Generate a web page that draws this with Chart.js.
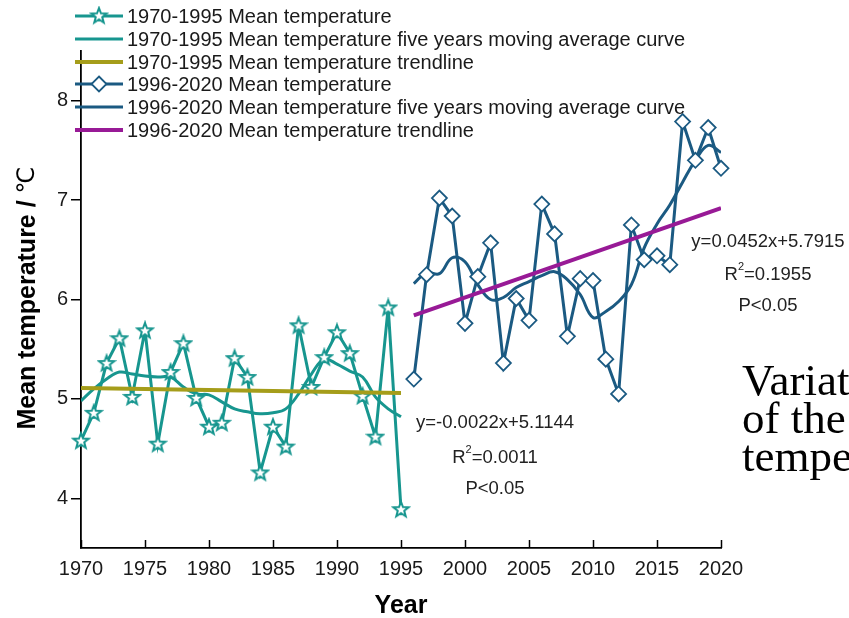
<!DOCTYPE html>
<html>
<head>
<meta charset="utf-8">
<script src="https://cdn.jsdelivr.net/npm/chart.js@4.4.0/dist/chart.umd.min.js"></script>
<style>
  html, body { margin: 0; padding: 0; background: #fff; }
</style>
</head>
<body>
<canvas id="myChart" width="849" height="618"></canvas>
<script>
// Mean temperature chart, two periods with moving average and trendlines

// 1970-1995 period
const years1 = [1970,1971,1972,1973,1974,1975,1976,1977,1978,1979,1980,1981,1982,
                1983,1984,1985,1986,1987,1988,1989,1990,1991,1992,1993,1994,1995];
const temp1 = [4.58,4.86,5.36,5.61,5.02,5.69,4.55,5.27,5.56,5.01,4.72,4.76,5.41,
               5.22,4.26,4.72,4.52,5.74,5.12,5.42,5.67,5.46,5.03,4.62,5.92,3.89];
const ma1 = [4.98,5.10,5.20,5.27,5.25,5.23,5.22,5.22,5.12,5.05,5.04,4.97,4.90,
             4.87,4.85,4.86,4.90,5.05,5.25,5.40,5.35,5.28,5.22,5.02,4.90,4.82];
const trendYears1 = [1970, 1995];
const trend1 = [5.11, 5.06];

// 1996-2020 period
const years2 = [1996,1997,1998,1999,2000,2001,2002,2003,2004,2005,2006,2007,2008,
                2009,2010,2011,2012,2013,2014,2015,2016,2017,2018,2019,2020];
const temp2 = [5.20,6.25,7.02,6.84,5.76,6.23,6.57,5.36,6.01,5.79,6.96,6.66,5.63,
               6.21,6.19,5.40,5.05,6.75,6.40,6.44,6.35,7.79,7.40,7.73,7.32];
const ma2 = [6.16,6.27,6.26,6.42,6.38,6.15,6.00,6.02,6.12,6.18,6.24,6.28,6.20,
             6.05,5.82,5.88,5.98,6.15,6.52,6.76,6.95,7.18,7.40,7.55,7.48];
const trendYears2 = [1996, 2020];
const trend2 = [5.84, 6.92];

// axes
const xTicks = [1970,1975,1980,1985,1990,1995,2000,2005,2010,2015,2020];
const yTicks = [4,5,6,7,8];

const legendLabels = [
  '1970-1995 Mean temperature',
  '1970-1995 Mean temperature five years moving average curve',
  '1970-1995 Mean temperature trendline',
  '1996-2020 Mean temperature',
  '1996-2020 Mean temperature five years moving average curve',
  '1996-2020 Mean temperature trendline'
];
const fit1 = ['y=-0.0022x+5.1144', '0.0011', 'P<0.05'];
const fit2 = ['y=0.0452x+5.7915', '0.1955', 'P<0.05'];
const sideText = ['Variat', 'of the', 'tempe'];

const teal = '#17968f';
const olive = '#a59d1a';
const navy = '#1b5a82';
const purple = '#981a96';

const pts = (xs, ys) => xs.map((x, i) => ({x: x, y: ys[i]}));

//star marker drawn once on a small canvas
function starPath(g, cx, cy, ro, ri) {
  g.beginPath();
  for (let i = 0; i < 10; i++) {
    const r = i % 2 ? ri : ro;
    const a = -Math.PI / 2 + i * Math.PI / 5;
    g.lineTo(cx + r * Math.cos(a), cy + r * Math.sin(a));
  }
  g.closePath();
}
const starImg = document.createElement('canvas');
starImg.width = 20; starImg.height = 20;
(function () {
  const g = starImg.getContext('2d');
  starPath(g, 10, 10.5, 8, 3.4);
  g.fillStyle = '#fff'; g.fill();
  g.lineWidth = 2; g.strokeStyle = teal; g.stroke();
})();

// extra drawing: inward x ticks, titles, legend, fit texts
const decor = {
  id: 'decor',
  afterDraw(chart) {
    const ctx = chart.ctx;
    const area = chart.chartArea;
    const xs = chart.scales.x;
    ctx.save();

    ctx.strokeStyle = '#000';
    ctx.lineWidth = 1.5;
    xTicks.forEach(v => {
      const px = Math.round(xs.getPixelForValue(v)) + 0.5;
      ctx.beginPath();
      ctx.moveTo(px, area.bottom);
      ctx.lineTo(px, area.bottom - 8);
      ctx.stroke();
    });

    // axis titles
    ctx.fillStyle = '#000';
    ctx.textAlign = 'center';
    ctx.textBaseline = 'middle';
    ctx.font = 'bold 25px "Liberation Sans", Arial, sans-serif';
    ctx.fillText('Year', (area.left + area.right) / 2, 606);
    ctx.save();
    ctx.translate(28, 298);
    ctx.rotate(-Math.PI / 2);
    const yTitle = 'Mean temperature / ';
    const wTitle = ctx.measureText(yTitle).width;
    ctx.font = '24px "DejaVu Sans", sans-serif';
    const wUnit = ctx.measureText('\u2103').width;
    ctx.textAlign = 'left';
    const tx = -(wTitle + wUnit) / 2;
    ctx.fillText('\u2103', tx + wTitle, 0);
    ctx.font = 'bold 25px "Liberation Sans", Arial, sans-serif';
    ctx.fillText(yTitle, tx, 0);
    ctx.restore();

    // legend
    const rowY = [16, 39, 62, 84, 107, 130];
    const rowColor = [teal, teal, olive, navy, navy, purple];
    ctx.font = '20px "Liberation Sans", Arial, sans-serif';
    ctx.textAlign = 'left';
    legendLabels.forEach((t, i) => {
      const y = rowY[i];
      ctx.strokeStyle = rowColor[i];
      ctx.lineWidth = (i === 2 || i === 5) ? 4 : 3;
      ctx.beginPath();
      ctx.moveTo(75, y);
      ctx.lineTo(123, y);
      ctx.stroke();
      if (i === 0) ctx.drawImage(starImg, 89, 5.5);
      if (i === 3) {
        ctx.beginPath();
        ctx.moveTo(99, y - 7.5); ctx.lineTo(106.5, y); ctx.lineTo(99, y + 7.5); ctx.lineTo(91.5, y);
        ctx.closePath();
        ctx.fillStyle = '#fff'; ctx.fill();
        ctx.lineWidth = 1.8; ctx.strokeStyle = navy; ctx.stroke();
      }
      ctx.fillStyle = '#1a1a1a';
      ctx.fillText(t, 127, y + 1);
    });

    // regression texts
    function fitBlock(lines, cx, ys) {
      ctx.fillStyle = '#222';
      ctx.textBaseline = 'middle';
      ctx.textAlign = 'center';
      ctx.font = '18.5px "Liberation Sans", Arial, sans-serif';
      ctx.fillText(lines[0], cx, ys[0]);
      ctx.fillText(lines[2], cx, ys[2]);
      // R squared with superscript
      const rest = '=' + lines[1];
      const wR = ctx.measureText('R').width;
      const wRest = ctx.measureText(rest).width;
      ctx.font = '11px "Liberation Sans", Arial, sans-serif';
      const wSup = ctx.measureText('2').width;
      let x0 = cx - (wR + wSup + wRest) / 2;
      ctx.textAlign = 'left';
      ctx.fillText('2', x0 + wR, ys[1] - 8);
      ctx.font = '18.5px "Liberation Sans", Arial, sans-serif';
      ctx.fillText('R', x0, ys[1]);
      ctx.fillText(rest, x0 + wR + wSup, ys[1]);
    }
    fitBlock(fit1, 495, [423, 458, 489]);
    fitBlock(fit2, 768, [242, 275, 306]);

    // serif caption cut at the right edge
    ctx.fillStyle = '#000';
    ctx.textAlign = 'left';
    ctx.textBaseline = 'alphabetic';
    ctx.font = '45px "Liberation Serif", "Times New Roman", serif';
    sideText.forEach((t, i) => ctx.fillText(t, 742, 395 + i * 38));

    ctx.restore();
  }
};

const ctx = document.getElementById('myChart').getContext('2d');

const myChart = new Chart(ctx, {
  type: 'line',
  data: {
    datasets: [
      {
        label: legendLabels[2], data: pts(trendYears1, trend1),
        borderColor: olive, borderWidth: 4, pointRadius: 0, order: 0
      },
      {
        label: legendLabels[5], data: pts(trendYears2, trend2),
        borderColor: purple, borderWidth: 4, pointRadius: 0, order: 0
      },
      {
        label: legendLabels[0], data: pts(years1, temp1),
        borderColor: teal, borderWidth: 3, tension: 0,
        pointStyle: starImg, pointRadius: 8, order: 1, clip: 12
      },
      {
        label: legendLabels[3], data: pts(years2, temp2),
        borderColor: navy, borderWidth: 3, tension: 0,
        pointStyle: 'rectRot', pointRadius: 7.5, pointBorderWidth: 1.8,
        pointBackgroundColor: '#fff', pointBorderColor: navy, order: 1, clip: 12
      },
      {
        label: legendLabels[1], data: pts(years1, ma1),
        borderColor: teal, borderWidth: 3, tension: 0.4, pointRadius: 0, order: 2
      },
      {
        label: legendLabels[4], data: pts(years2, ma2),
        borderColor: navy, borderWidth: 3, tension: 0.4, pointRadius: 0, order: 2
      }
    ]
  },
  options: {
    responsive: false,
    animation: false,
    events: [],
    layout: { padding: { left: 0, top: 51, right: 128, bottom: 0 } },
    scales: {
      x: {
        type: 'linear',
        min: 1970,
        max: 2020,
        afterBuildTicks: s => { s.ticks = xTicks.map(v => ({value: v})); },
        afterFit: s => { s.height = 70; },
        grid: { display: false, drawTicks: false },
        border: { display: true, color: '#000', width: 1.8 },
        ticks: {
          padding: 9,
          color: '#1a1a1a',
          font: { family: '"Liberation Sans", Arial, sans-serif', size: 20 },
          callback: v => String(v)
        }
      },
      y: {
        min: 3.5,
        max: 8.5,
        afterBuildTicks: s => { s.ticks = yTicks.map(v => ({value: v})); },
        afterFit: s => { s.width = 81; },
        grid: { display: true, drawOnChartArea: false, drawTicks: true, tickLength: 10, color: '#000', lineWidth: 1.5 },
        border: { display: true, color: '#000', width: 1.8 },
        ticks: {
          padding: 3,
          color: '#1a1a1a',
          font: { family: '"Liberation Sans", Arial, sans-serif', size: 20 }
        }
      }
    },
    plugins: {
      legend: { display: false },
      tooltip: { enabled: false }
    }
  },
  plugins: [decor]
});
</script>
</body>
</html>
